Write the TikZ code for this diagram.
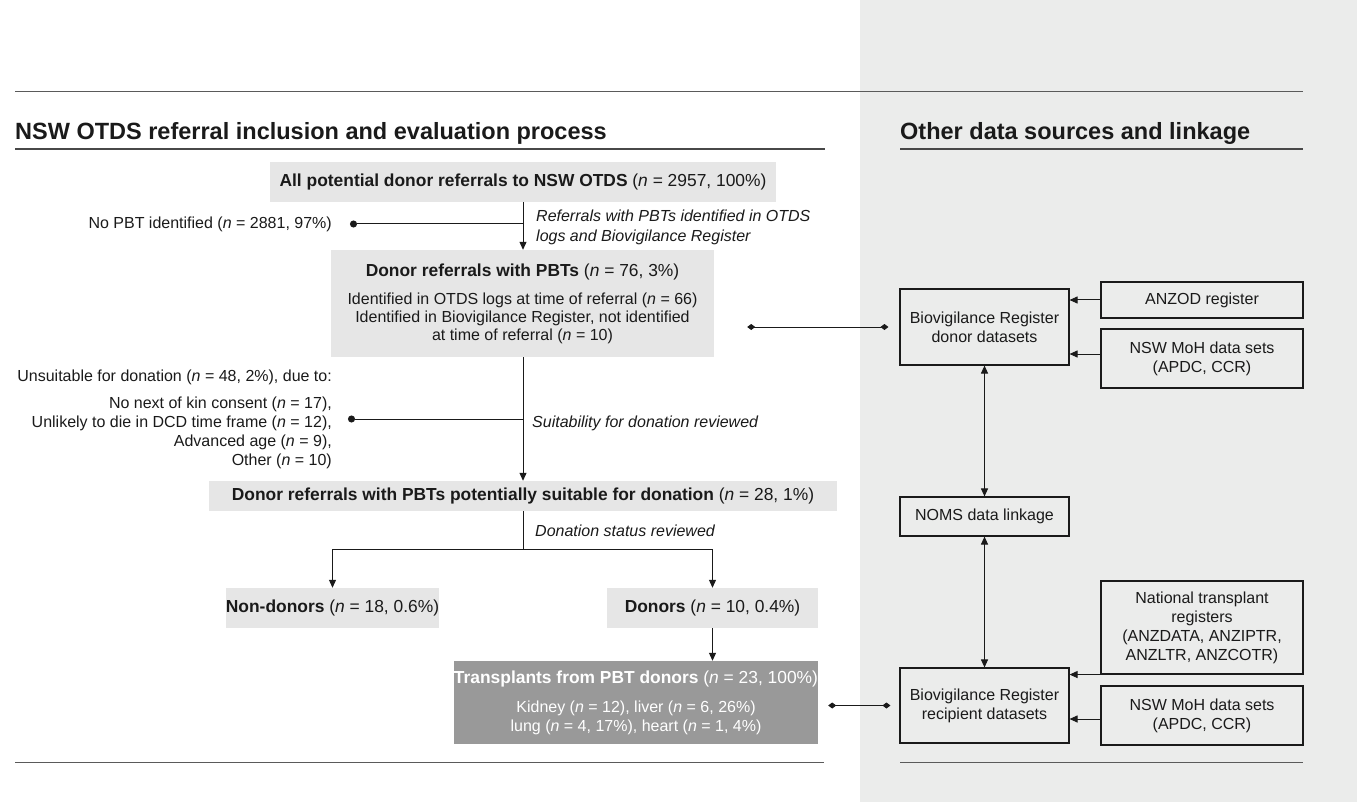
\documentclass[tikz,border=0pt]{standalone}
\usepackage{fontspec}
\setmainfont{Liberation Sans}
\usetikzlibrary{arrows.meta}
\definecolor{boxgrey}{HTML}{E6E6E6}
\definecolor{panelgrey}{HTML}{EBECEB}
\definecolor{darkbox}{HTML}{999999}
\definecolor{ink}{HTML}{1A1A1A}
\definecolor{rulegrey}{HTML}{5A5A5A}
\newcommand{\nn}{\textit{n}}
\newcommand{\bigbt}{\fontsize{17.4}{19}\selectfont}
\begin{document}
\begin{tikzpicture}[x=1pt,y=-1pt,
  every node/.style={text=ink, font=\fontsize{16}{19}\selectfont},
  lbox/.style={fill=boxgrey, inner sep=0pt, align=center},
  lboxb/.style={lbox, font=\bigbt},
  dbox/.style={fill=darkbox, inner sep=0pt, align=center, text=white},
  rbox/.style={draw=ink, line width=1.1pt, inner sep=0pt, align=center},
  lbl/.style={inner sep=0pt},
  itl/.style={inner sep=0pt, align=left, font=\fontsize{16}{20}\selectfont\itshape},
  ttl/.style={inner sep=0pt, font=\fontsize{23.5}{28}\selectfont\bfseries},
  conn/.style={draw=ink, line width=1pt},
  arr/.style={conn, -{Triangle[length=8pt,width=7pt]}},
  darr/.style={conn, {Triangle[length=8pt,width=7pt]}-{Triangle[length=8pt,width=7pt]}},
  dotend/.style={conn, -{Circle[length=7pt]}},
  diaends/.style={conn, {Diamond[length=8pt,width=6pt]}-{Diamond[length=8pt,width=6pt]}},
  rulethin/.style={draw=rulegrey, line width=1pt},
  rulethick/.style={draw=rulegrey!80!black, line width=2pt}
]
\useasboundingbox (0,0) rectangle (1357,802);
\fill[panelgrey] (860,0) rectangle (1357,802);

% rules
\coordinate (tl) at (15,92);
\coordinate (tr) at (1303,92);
\draw[rulethin] (tl) -- (tr);
\draw[rulethick] (15,149) -- (825,149);
\draw[rulethick] (900,149) -- (1303,149);
\draw[rulethin] (15,762) -- (824,762);
\draw[rulethin] (900,762) -- (1303,762);

% titles
\node[ttl, anchor=base west] (t1) at (15,139.5) {NSW OTDS referral inclusion and evaluation process};
\node[ttl, anchor=base west] (t2) at (900,139.5) {Other data sources and linkage};

% left boxes
\node[lboxb, minimum width=506pt, minimum height=40pt] (b1) at (523,182)
  {\textbf{All potential donor referrals to NSW OTDS} (\nn{} = 2957, 100\%)};
\node[lbox, minimum width=383pt, minimum height=107pt, font=\fontsize{16}{18}\selectfont] (b2) at (522.5,303.5)
  {{\bigbt\textbf{Donor referrals with PBTs} (\nn{} = 76, 3\%)}\\[10pt]
   Identified in OTDS logs at time of referral (\nn{} = 66)\\
   Identified in Biovigilance Register, not identified\\
   at time of referral (\nn{} = 10)};
\node[lboxb, minimum width=628pt, minimum height=30pt] (b3) at (523,496)
  {\textbf{Donor referrals with PBTs potentially suitable for donation} (\nn{} = 28, 1\%)};
\node[lboxb, minimum width=211pt, minimum height=40pt] (nond) at (332.5,608)
  {\textbf{Non-donors} (\nn{} = 18, 0.6\%)};
\node[lboxb, minimum width=211pt, minimum height=40pt] (don) at (712.5,608)
  {\textbf{Donors} (\nn{} = 10, 0.4\%)};
\node[dbox, minimum width=364pt, minimum height=83pt] (trans) at (636,702.5)
  {{\bigbt\textbf{Transplants from PBT donors} (\nn{} = 23, 100\%)}\\[10pt]
   Kidney (\nn{} = 12), liver (\nn{} = 6, 26\%)\\
   lung (\nn{} = 4, 17\%), heart (\nn{} = 1, 4\%)};

% left side labels
\node[lbl, anchor=east] (nopbt) at (332,224) {No PBT identified (\nn{} = 2881, 97\%)};
\node[lbl, anchor=east, align=right] (unsuit) at (332,419)
  {Unsuitable for donation (\nn{} = 48, 2\%), due to:\\[8pt]
   No next of kin consent (\nn{} = 17),\\
   Unlikely to die in DCD time frame (\nn{} = 12),\\
   Advanced age (\nn{} = 9),\\
   Other (\nn{} = 10)};
\node[itl, anchor=west] (lab1) at (536,227)
  {Referrals with PBTs identified in OTDS\\logs and Biovigilance Register};
\node[itl, anchor=west] (lab2) at (532,423) {Suitability for donation reviewed};
\node[itl, anchor=west] (lab3) at (535,531) {Donation status reviewed};

% right boxes
\node[rbox, minimum width=169pt, minimum height=76pt] (brd) at (984.5,327)
  {Biovigilance Register\\donor datasets};
\node[rbox, minimum width=202pt, minimum height=36pt] (anzod) at (1202,300)
  {ANZOD register};
\node[rbox, minimum width=202pt, minimum height=59pt] (moh1) at (1202,358.5)
  {NSW MoH data sets\\(APDC, CCR)};
\node[rbox, minimum width=169pt, minimum height=39pt] (noms) at (984.5,516.5)
  {NOMS data linkage};
\node[rbox, minimum width=202pt, minimum height=93pt] (nat) at (1202,627.5)
  {National transplant\\registers\\(ANZDATA, ANZIPTR,\\ANZLTR, ANZCOTR)};
\node[rbox, minimum width=169pt, minimum height=75pt] (brr) at (984.5,705.5)
  {Biovigilance Register\\recipient datasets};
\node[rbox, minimum width=202pt, minimum height=59pt] (moh2) at (1202,715.5)
  {NSW MoH data sets\\(APDC, CCR)};

% left connectors
\coordinate (j1) at (b1.south |- nopbt.east);
\coordinate (d1) at ([xshift=18pt]nopbt.east);
\draw[arr] (b1.south) -- (b1.south |- b2.north);
\draw[dotend] (j1) -- (d1);
\coordinate (j2) at (b1.south |- unsuit.east);
\coordinate (d2) at ([xshift=16pt]unsuit.east);
\draw[arr] (b2.south -| b1.south) -- (b1.south |- b3.north);
\draw[dotend] (j2) -- (d2);
\coordinate (j3) at (523,549);
\draw[arr] (b3.south -| j3) -- (j3) -| (nond.north);
\draw[arr] (j3) -| (don.north);
\draw[arr] (don.south) -- (don.south |- trans.north);

% cross connectors
\draw[diaends, shorten <=11pt, shorten >=33pt] (brd.west) -- (b2.east |- brd.west);
\draw[diaends, shorten <=9pt, shorten >=10pt] (brr.west) -- (trans.east |- brr.west);

% right connectors
\draw[arr] (anzod.west) -- (anzod.west -| brd.east);
\draw[arr] ([yshift=4.5pt]moh1.west) -- ([yshift=4.5pt]moh1.west -| brd.east);
\draw[darr] (brd.south) -- (noms.north);
\draw[darr] (noms.south) -- (brr.north);
\draw[arr] (nat.south west) -- (nat.south west -| brr.east);
\draw[arr] ([yshift=-3.5pt]moh2.west) -- ([yshift=-3.5pt]moh2.west -| brr.east);
\end{tikzpicture}
\end{document}
